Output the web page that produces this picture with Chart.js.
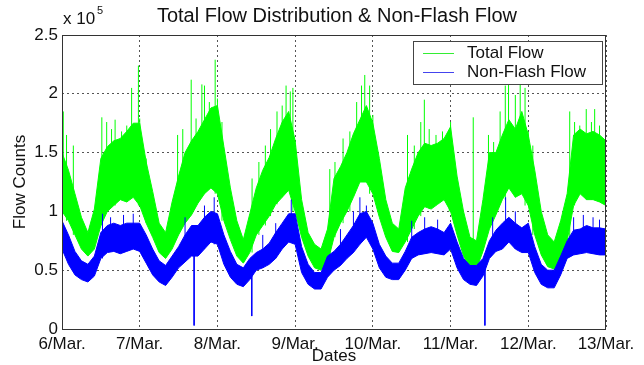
<!DOCTYPE html>
<html>
<head>
<meta charset="utf-8">
<script src="https://cdn.jsdelivr.net/npm/chart.js@4.4.1/dist/chart.umd.min.js"></script>
<style>
  body { margin: 0; background: #fff; }
</style>
</head>
<body>
<canvas id="mycanvas" width="644" height="365"></canvas>
<script>
// sampling grid: hours since 6/Mar 00:00, one reading every 2 h
var hours = [];
for (var i = 0; i <= 84; i++) hours.push(i * 2);

var dateLabels = ['6/Mar.', '7/Mar.', '8/Mar.', '9/Mar.', '10/Mar.', '11/Mar.', '12/Mar.', '13/Mar.'];
var yTickLabels = ['0', '0.5', '1', '1.5', '2', '2.5'];

// flow counts in units of 10^5, upper / lower edge of the noisy trace
var totalHi = [
  1.50,1.35,1.15,0.95,0.82,1.02,1.45,1.55,1.60,1.62,1.68,1.75,
  1.75,1.42,1.17,0.90,0.82,1.08,1.30,1.50,1.60,1.68,1.78,1.88,
  1.90,1.55,1.20,0.92,0.76,0.98,1.20,1.35,1.46,1.62,1.76,1.85,
  1.60,1.10,0.82,0.72,0.68,0.85,1.28,1.38,1.50,1.66,1.78,1.90,
  1.75,1.45,1.10,0.90,0.85,1.20,1.36,1.50,1.58,1.56,1.58,1.62,
  1.72,1.30,1.00,0.78,0.75,1.10,1.50,1.50,1.65,1.78,1.70,1.85,
  1.65,1.35,1.00,0.80,0.74,0.92,1.15,1.65,1.70,1.66,1.68,1.65,
  1.60];
var totalLo = [
  1.00,0.92,0.80,0.68,0.62,0.68,0.88,1.00,1.05,1.10,1.08,1.12,
  1.05,0.90,0.78,0.65,0.60,0.68,0.80,0.90,0.97,1.07,1.15,1.20,
  1.15,0.92,0.76,0.62,0.56,0.65,0.80,0.88,0.96,1.06,1.12,1.18,
  1.00,0.78,0.62,0.52,0.50,0.56,0.78,0.90,1.00,1.12,1.25,1.25,
  1.15,0.95,0.78,0.66,0.65,0.74,0.85,0.96,1.04,1.02,1.06,1.10,
  1.00,0.80,0.62,0.52,0.51,0.66,0.85,0.97,1.10,1.20,1.12,1.15,
  1.05,0.80,0.63,0.53,0.51,0.60,0.75,1.05,1.15,1.10,1.10,1.08,
  1.05];
var nonFlashHi = [
  0.92,0.80,0.66,0.58,0.55,0.62,0.82,0.88,0.90,0.88,0.90,0.90,
  0.90,0.80,0.68,0.58,0.54,0.62,0.70,0.80,0.88,0.88,0.95,1.00,
  0.98,0.80,0.66,0.55,0.52,0.60,0.65,0.68,0.73,0.82,0.90,0.98,
  0.98,0.70,0.55,0.48,0.48,0.62,0.66,0.72,0.80,0.88,0.98,1.00,
  0.90,0.72,0.62,0.56,0.56,0.66,0.78,0.82,0.85,0.87,0.85,0.82,
  0.90,0.74,0.60,0.54,0.54,0.60,0.75,0.84,0.90,0.95,0.90,0.86,
  0.90,0.70,0.55,0.50,0.50,0.62,0.75,0.84,0.85,0.88,0.86,0.86,
  0.85];
var nonFlashLo = [
  0.68,0.55,0.46,0.42,0.40,0.45,0.60,0.65,0.66,0.64,0.66,0.68,
  0.66,0.56,0.46,0.40,0.37,0.44,0.52,0.57,0.62,0.62,0.68,0.74,
  0.72,0.55,0.44,0.38,0.36,0.42,0.50,0.52,0.55,0.60,0.68,0.74,
  0.72,0.48,0.38,0.34,0.34,0.44,0.50,0.54,0.60,0.65,0.72,0.78,
  0.68,0.52,0.44,0.42,0.42,0.50,0.60,0.63,0.64,0.65,0.64,0.63,
  0.68,0.52,0.42,0.38,0.37,0.45,0.60,0.66,0.68,0.74,0.68,0.65,
  0.65,0.48,0.38,0.35,0.35,0.46,0.60,0.63,0.64,0.65,0.64,0.63,
  0.63];

// single-sample peaks / drops
var totalSpikeHours = [0.4, 1.4, 3.5, 12.3, 13.8, 15.3, 16.4, 18.4, 20, 21.5, 23.6,
                       24, 26, 35.7, 37.3, 39.9, 41.4, 43.2, 44, 45.5, 47.3,
                       48, 49.4, 58.7, 60.8, 62.8, 64.4, 66.4, 68, 69.2, 70.5, 71.3,
                       82.7, 84.3, 86.8, 88.9, 91, 92.5, 93.5, 95,
                       96, 106.7, 108.8, 110.8, 111.9, 113.4, 115.5, 117.5, 119.6,
                       120, 127, 131.7, 133.3, 135.3, 136.9, 137.9, 140, 141.5, 143,
                       144, 145.4, 156.8, 158.3, 159.9, 161.9, 163.5, 164.5, 166];
var totalSpikeVals  = [1.85, 1.65, 1.56, 1.8, 1.76, 1.7, 1.78, 1.68, 1.73, 2.05, 2.24,
                       1.79, 1.45, 1.65, 1.7, 2.12, 1.79, 2.08, 2.07, 1.93, 2.29,
                       1.96, 1.76, 1.28, 1.42, 1.56, 1.7, 1.85, 1.9, 2.07, 2.02, 2.05,
                       1.36, 1.42, 1.62, 1.68, 1.93, 2.07, 2.16, 2.07,
                       1.82, 1.65, 1.56, 1.76, 1.95, 1.7, 1.65, 1.68, 1.59,
                       1.76, 1.8, 1.65, 1.59, 1.85, 2.07, 2.2, 1.99, 2.1, 2.05,
                       1.68, 1.56, 1.85, 1.76, 1.73, 1.87, 1.76, 1.87, 1.73];
var nfSpikeHours = [0, 12.5, 15, 19, 22, 38, 40.8, 44, 47, 58.6, 62, 66, 70.8,
                    86, 90, 92, 94, 108, 112, 116, 130.6, 133, 137, 140, 158, 161, 164, 166, 168];
var nfSpikeVals  = [0, 0.98, 0.95, 0.97, 0.98, 0.95, 0.03, 1.05, 1.12, 0.11, 0.8, 0.9, 1.1,
                    0.85, 1.0, 1.12, 1.05, 0.92, 0.95, 0.93, 0.03, 0.95, 1.12, 1.0, 0.95, 0.97, 0.95, 0.93, 0];

function band(vals) {
  return hours.map(function(h, k) { return {x: h, y: vals[k]}; });
}
function spikes(sh, sv, hi, lo) {
  var pts = [];
  for (var k = 0; k < sh.length; k++) {
    var idx = Math.round(sh[k] / 2);
    var base = sv[k] < lo[idx] ? hi[idx] : lo[idx];
    pts.push({x: sh[k], y: base}, {x: sh[k], y: sv[k]}, {x: sh[k], y: null});
  }
  return pts;
}

var GREEN = '#00ff00', BLUE = '#0000ff';
var FONT = '"Liberation Sans", Arial, sans-serif';

var decor = {
  id: 'decor',
  afterDraw: function(chart) {
    var ctx = chart.ctx, a = chart.chartArea;
    ctx.save();
    ctx.strokeStyle = '#333';
    ctx.lineWidth = 1;
    ctx.setLineDash([]);
    ctx.strokeRect(Math.round(a.left) + 0.5, Math.round(a.top) + 0.5,
                   Math.round(a.right - a.left) - 1, Math.round(a.bottom - a.top));
    ctx.fillStyle = '#111';
    ctx.textAlign = 'center';
    ctx.textBaseline = 'middle';
    ctx.font = '20px ' + FONT;
    ctx.fillText('Total Flow Distribution & Non-Flash Flow', (a.left + a.right) / 2 + 3, 16);
    ctx.font = '17px ' + FONT;
    ctx.fillText('Dates', (a.left + a.right) / 2, 356);
    ctx.save();
    ctx.translate(20, (a.top + a.bottom) / 2);
    ctx.rotate(-Math.PI / 2);
    ctx.fillText('Flow Counts', 0, 0);
    ctx.restore();
    ctx.textAlign = 'left';
    ctx.fillText('x 10', a.left + 1, 19);
    ctx.font = '11px ' + FONT;
    ctx.fillText('5', a.left + 35, 11);
    // legend box
    var lx = 413, ly = 41, lw = 189, lh = 43;
    ctx.fillStyle = '#fff';
    ctx.fillRect(lx, ly, lw, lh);
    ctx.strokeStyle = '#444';
    ctx.strokeRect(lx + 0.5, ly + 0.5, lw, lh);
    var rows = [['Total Flow', '#33ee33', 53], ['Non-Flash Flow', '#4444ee', 72]];
    ctx.font = '17px ' + FONT;
    rows.forEach(function(r) {
      ctx.fillStyle = r[1];
      ctx.fillRect(423, r[2], 31, 1);
      ctx.fillStyle = '#111';
      ctx.fillText(r[0], 467, r[2]);
    });
    ctx.restore();
  }
};

var ctx = document.getElementById('mycanvas');
var chart = new Chart(ctx, {
  type: 'line',
  data: {
    datasets: [
      {data: band(nonFlashHi), borderColor: BLUE, backgroundColor: BLUE, fill: '+1', order: 1},
      {data: band(nonFlashLo), borderColor: BLUE, backgroundColor: BLUE, fill: false, order: 1},
      {data: spikes(nfSpikeHours, nfSpikeVals, nonFlashHi, nonFlashLo), borderColor: BLUE, fill: false, order: 0, spanGaps: false},
      {data: band(totalHi), borderColor: GREEN, backgroundColor: GREEN, fill: '+1', order: 3},
      {data: band(totalLo), borderColor: GREEN, backgroundColor: GREEN, fill: false, order: 3},
      {data: spikes(totalSpikeHours, totalSpikeVals, totalHi, totalLo), borderColor: GREEN, fill: false, order: 2, spanGaps: false}
    ]
  },
  options: {
    responsive: false,
    animation: false,
    devicePixelRatio: 1,
    elements: {
      point: { radius: 0 },
      line: { borderWidth: 1, tension: 0 }
    },
    layout: { padding: { top: 35, right: 38, left: 0, bottom: 0 } },
    plugins: { legend: { display: false }, tooltip: { enabled: false } },
    scales: {
      x: {
        type: 'linear', min: 0, max: 168,
        afterFit: function(s) { s.height = 36; },
        grid: { color: '#555', drawTicks: false, lineWidth: 1 },
        border: { display: false, dash: [2, 3] },
        ticks: {
          stepSize: 24, autoSkip: false, maxRotation: 0, padding: 5, color: '#111',
          font: { size: 17, family: FONT },
          callback: function(v) { return dateLabels[v / 24]; }
        }
      },
      y: {
        min: 0, max: 2.5,
        afterFit: function(s) { s.width = 62; },
        grid: { color: '#555', drawTicks: false, lineWidth: 1 },
        border: { display: false, dash: [2, 3] },
        ticks: {
          stepSize: 0.5, padding: 4, color: '#111',
          font: { size: 17, family: FONT },
          callback: function(v) { return yTickLabels[Math.round(v * 2)]; }
        }
      }
    }
  },
  plugins: [decor]
});
</script>
</body>
</html>
